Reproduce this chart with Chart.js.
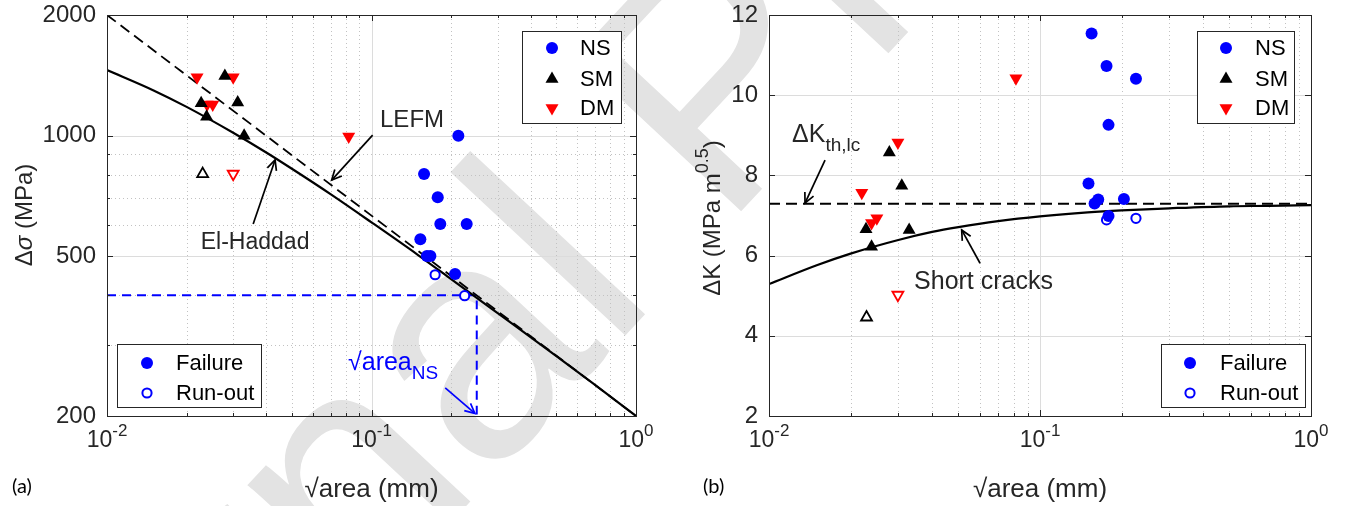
<!DOCTYPE html>
<html>
<head>
<meta charset="utf-8">
<script src="https://cdn.jsdelivr.net/npm/chart.js@4.4.1/dist/chart.umd.min.js"></script>
<style>
  html, body { margin: 0; padding: 0; background: #fff; }
  #page { position: relative; width: 1351px; height: 506px; overflow: hidden; }
  canvas { position: absolute; top: 0; }
  #wm { left: 0; }
  #chartA { left: 0; }
  #chartB { left: 680px; }
</style>
</head>
<body>
<div id="page">
  <canvas id="wm" width="1351" height="506"></canvas>
  <canvas id="chartA" width="680" height="506"></canvas>
  <canvas id="chartB" width="671" height="506"></canvas>
</div>
<script>
const FONT = '"Liberation Sans", Arial, Helvetica, sans-serif';
const INK = "#262626";
const BLUE = "#0000ff";
const RED = "#ff0000";

// ---- panel (a): stress range vs sqrt(area) ----
const nsFailA_x = [0.213, 0.158, 0.178, 0.182, 0.229, 0.153, 0.162, 0.167, 0.207];
const nsFailA_y = [1000, 803, 702, 602, 602, 552, 501, 501, 452];
const nsRunA_x = [0.174, 0.225];
const nsRunA_y = [450, 399];
const smFailA_x = [0.0279, 0.0227, 0.0312, 0.0238, 0.033];
const smFailA_y = [1409, 1205, 1210, 1115, 1000];
const smRunA_x = [0.023];
const smRunA_y = [803];
const dmFailA_x = [0.0219, 0.03, 0.0239, 0.0251, 0.082];
const dmFailA_y = [1398, 1398, 1197, 1197, 995];
const dmRunA_x = [0.03];
const dmRunA_y = [803];
const lefm_x = [0.01, 0.1, 1];
const lefm_y = [2000, 632, 200];
const elHaddad_x = [0.01, 0.015, 0.02, 0.03, 0.04, 0.05, 0.07, 0.1, 0.15, 0.2, 0.3, 0.5, 0.7, 1];
const elHaddad_y = [1458, 1297, 1180, 1017, 908, 827, 715, 608, 504, 439, 361, 282, 239, 200];
const nsGuide_x = [0.01, 0.25, 0.25];
const nsGuide_y = [400, 400, 200];

// ---- panel (b): threshold SIF vs sqrt(area) ----
const nsFailB_x = [0.155, 0.176, 0.226, 0.179, 0.151, 0.164, 0.159, 0.204, 0.179];
const nsFailB_y = [11.54, 10.73, 10.41, 9.26, 7.8, 7.4, 7.3, 7.41, 6.99];
const nsRunB_x = [0.176, 0.226];
const nsRunB_y = [6.89, 6.93];
const smFailB_x = [0.0278, 0.0309, 0.0228, 0.0329, 0.0239];
const smFailB_y = [8.57, 7.74, 6.66, 6.64, 6.22];
const smRunB_x = [0.0229];
const smRunB_y = [4.46];
const dmFailB_x = [0.0815, 0.0299, 0.022, 0.025, 0.0239];
const dmFailB_y = [10.42, 8.82, 7.57, 6.93, 6.81];
const dmRunB_x = [0.0299];
const dmRunB_y = [5.02];
const kth_x = [0.01, 1];
const kth_y = [7.29, 7.29];
const shortCrack_x = [0.01, 0.015, 0.02, 0.03, 0.04, 0.05, 0.07, 0.1, 0.15, 0.2, 0.3, 0.5, 0.7, 1];
const shortCrack_y = [5.29, 5.76, 6.05, 6.39, 6.59, 6.71, 6.86, 6.98, 7.08, 7.13, 7.18, 7.23, 7.24, 7.26];

// ---- ticks ----
const xTicks = [0.01, 0.1, 1];
const xTickExp = ["-2", "-1", "0"];
const xMinor = [0.02, 0.03, 0.04, 0.05, 0.06, 0.07, 0.08, 0.09, 0.2, 0.3, 0.4, 0.5, 0.6, 0.7, 0.8, 0.9];
const yTicksA = [200, 500, 1000, 2000];
const yMinorA = [300, 400, 600, 700, 800, 900];
const yTicksB = [2, 4, 6, 8, 10, 12];

const pts = (xs, ys) => xs.map((x, i) => ({ x: x, y: ys[i] }));

// marker styles, shared by plot and legends
const ST = {
  nsFail: { pointStyle: "circle", radius: 6, rotation: 0, fill: BLUE, stroke: BLUE, borderWidth: 0 },
  nsRun: { pointStyle: "circle", radius: 4.6, rotation: 0, fill: "#fff", stroke: BLUE, borderWidth: 2 },
  smFail: { pointStyle: "triangle", radius: 7.5, rotation: 0, fill: "#000", stroke: "#000", borderWidth: 0 },
  smRun: { pointStyle: "triangle", radius: 6.3, rotation: 0, fill: "#fff", stroke: "#000", borderWidth: 1.8 },
  dmFail: { pointStyle: "triangle", radius: 7.5, rotation: 180, fill: RED, stroke: RED, borderWidth: 0 },
  dmRun: { pointStyle: "triangle", radius: 6.3, rotation: 180, fill: "#fff", stroke: RED, borderWidth: 1.8 },
};

function markers(xs, ys, s) {
  return {
    data: pts(xs, ys),
    showLine: false,
    pointStyle: s.pointStyle,
    rotation: s.rotation,
    pointRadius: s.radius,
    pointBackgroundColor: s.fill,
    pointBorderColor: s.stroke,
    pointBorderWidth: s.borderWidth,
  };
}

function curve(xs, ys, color, width, dash) {
  return {
    data: pts(xs, ys),
    showLine: true,
    borderColor: color,
    borderWidth: width,
    borderDash: dash || [],
    pointRadius: 0,
    cubicInterpolationMode: "monotone",
    fill: false,
  };
}

// ---- drawing helpers ----
function line(ctx, x1, y1, x2, y2) {
  ctx.beginPath();
  ctx.moveTo(x1, y1);
  ctx.lineTo(x2, y2);
  ctx.stroke();
}
const snap = (v) => Math.round(v) + 0.5;

function drawMarker(ctx, s, x, y) {
  ctx.save();
  ctx.fillStyle = s.fill;
  ctx.strokeStyle = s.stroke;
  ctx.lineWidth = s.borderWidth;
  Chart.helpers.drawPoint(ctx, { pointStyle: s.pointStyle, rotation: s.rotation, radius: s.radius, borderWidth: s.borderWidth }, x, y);
  ctx.restore();
}

// text made of parts: {t, sub, sup, italic}
function drawParts(ctx, parts, x, y, size, align) {
  const fontOf = (p) => (p.italic ? "italic " : "") + Math.round(p.sub || p.sup ? size * 0.75 : size) + "px " + FONT;
  let total = 0;
  parts.forEach((p) => { ctx.font = fontOf(p); total += ctx.measureText(p.t).width; });
  let cx = align === "center" ? x - total / 2 : align === "right" ? x - total : x;
  ctx.textAlign = "left";
  ctx.textBaseline = "middle";
  parts.forEach((p) => {
    ctx.font = fontOf(p);
    const dy = p.sub ? size * 0.42 : p.sup ? -size * 0.42 : 0;
    ctx.fillText(p.t, cx, y + dy);
    cx += ctx.measureText(p.t).width;
  });
}

function drawArrow(ctx, x1, y1, x2, y2, color) {
  ctx.save();
  ctx.strokeStyle = color;
  ctx.lineWidth = 1.7;
  ctx.setLineDash([]);
  line(ctx, x1, y1, x2, y2);
  const ang = Math.atan2(y2 - y1, x2 - x1);
  const L = 11, h = 0.45;
  ctx.beginPath();
  ctx.moveTo(x2 - L * Math.cos(ang - h), y2 - L * Math.sin(ang - h));
  ctx.lineTo(x2, y2);
  ctx.lineTo(x2 - L * Math.cos(ang + h), y2 - L * Math.sin(ang + h));
  ctx.stroke();
  ctx.restore();
}

function drawLegend(ctx, b, entries) {
  ctx.save();
  ctx.fillStyle = "#fff";
  ctx.fillRect(b.x, b.y, b.w, b.h);
  ctx.strokeStyle = INK;
  ctx.lineWidth = 1;
  ctx.setLineDash([]);
  ctx.strokeRect(snap(b.x), snap(b.y), b.w, b.h);
  entries.forEach((e) => {
    drawMarker(ctx, e.style, b.x + b.mx, b.y + e.dy);
    ctx.fillStyle = "#000";
    ctx.font = "22px " + FONT;
    ctx.textAlign = "left";
    ctx.textBaseline = "middle";
    ctx.fillText(e.label, b.x + b.tx, b.y + e.dy + 1);
  });
  ctx.restore();
}

function matlabAxes(opt) {
  return {
    id: "matlabAxes",
    beforeDatasetsDraw(chart) {
      const { ctx, chartArea: a } = chart;
      const x = chart.scales.x, y = chart.scales.y;
      ctx.save();
      ctx.lineWidth = 1;
      ctx.strokeStyle = "#c2c2c2";
      ctx.setLineDash([1, 3]);
      xMinor.forEach((v) => { const p = snap(x.getPixelForValue(v)); line(ctx, p, a.top, p, a.bottom); });
      opt.yMinor.forEach((v) => { const p = snap(y.getPixelForValue(v)); line(ctx, a.left, p, a.right, p); });
      ctx.setLineDash([]);
      ctx.strokeStyle = "#dcdcdc";
      xTicks.forEach((v) => { const p = snap(x.getPixelForValue(v)); if (p > a.left + 2 && p < a.right - 2) line(ctx, p, a.top, p, a.bottom); });
      opt.yTicks.forEach((v) => { const p = snap(y.getPixelForValue(v)); if (p > a.top + 2 && p < a.bottom - 2) line(ctx, a.left, p, a.right, p); });
      ctx.restore();
    },
    afterDatasetsDraw(chart) {
      const { ctx, chartArea: a } = chart;
      const x = chart.scales.x, y = chart.scales.y;
      const P = (vx, vy) => [x.getPixelForValue(vx), y.getPixelForValue(vy)];
      ctx.save();
      // box
      ctx.strokeStyle = INK;
      ctx.lineWidth = 1;
      ctx.setLineDash([]);
      ctx.strokeRect(snap(a.left), snap(a.top), Math.round(a.right - a.left), Math.round(a.bottom - a.top));
      // tick marks, inward on all sides
      const xt = (v, L) => { const p = snap(x.getPixelForValue(v)); line(ctx, p, a.bottom, p, a.bottom - L); line(ctx, p, a.top, p, a.top + L); };
      const yt = (v, L) => { const p = snap(y.getPixelForValue(v)); line(ctx, a.left, p, a.left + L, p); line(ctx, a.right, p, a.right - L, p); };
      xTicks.forEach((v) => xt(v, 6));
      xMinor.forEach((v) => xt(v, 3));
      opt.yTicks.forEach((v) => yt(v, 6));
      opt.yMinor.forEach((v) => yt(v, 3));
      // tick labels
      ctx.fillStyle = INK;
      opt.yTicks.forEach((v) => {
        drawParts(ctx, [{ t: String(v) }], a.left - 11, y.getPixelForValue(v), 24, "right");
      });
      xTicks.forEach((v, i) => {
        drawParts(ctx, [{ t: "10" }, { t: xTickExp[i], sup: true }], x.getPixelForValue(v), a.bottom + 25, 23, "center");
      });
      // axis titles
      drawParts(ctx, [{ t: "\u221Aarea (mm)" }], (a.left + a.right) / 2, 490, 26, "center");
      ctx.save();
      ctx.translate(opt.yTitleX, opt.yTitleY);
      ctx.rotate(-Math.PI / 2);
      drawParts(ctx, opt.yTitle, 0, 0, 24, "center");
      ctx.restore();
      ctx.font = "20px Lato, " + FONT;
      ctx.textAlign = "left";
      ctx.textBaseline = "middle";
      ctx.fillStyle = "#000";
      ctx.fillText(opt.tag, opt.tagX, 487);
      // annotations
      opt.arrows.forEach((r) => {
        const f = P(r.from[0], r.from[1]), t = P(r.to[0], r.to[1]);
        drawArrow(ctx, f[0], f[1], t[0], t[1], r.color || "#000");
      });
      opt.notes.forEach((n) => {
        const p = P(n.at[0], n.at[1]);
        ctx.fillStyle = n.color || INK;
        drawParts(ctx, n.parts, p[0], p[1], n.size || 24, n.align || "left");
      });
      // legends
      opt.legends.forEach((lg) => {
        const b = Object.assign({}, lg.box);
        b.x = lg.right != null ? a.right - lg.right - b.w : a.left + lg.left;
        b.y = lg.top != null ? a.top + lg.top : a.bottom - lg.bottom - b.h;
        drawLegend(ctx, b, lg.entries);
      });
      ctx.restore();
    },
  };
}

const typeEntries = [
  { label: "NS", style: ST.nsFail, dy: 17 },
  { label: "SM", style: ST.smFail, dy: 48 },
  { label: "DM", style: ST.dmFail, dy: 77 },
];
const stateEntries = [
  { label: "Failure", style: ST.nsFail, dy: 19 },
  { label: "Run-out", style: ST.nsRun, dy: 49 },
];

const panelA = {
  yTicks: yTicksA,
  yMinor: yMinorA,
  yTitle: [{ t: "\u0394" }, { t: "\u03C3", italic: true }, { t: " (MPa)" }],
  yTitleX: 25,
  yTitleY: 215,
  tag: "(a)",
  tagX: 12,
  notes: [
    { parts: [{ t: "LEFM" }], at: [0.1077, 1094] },
    { parts: [{ t: "El-Haddad" }], at: [0.0363, 540], align: "center", size: 23 },
    { parts: [{ t: "\u221Aarea" }, { t: "NS", sub: true }], at: [0.0815, 271], color: BLUE, size: 25 },
  ],
  arrows: [
    { from: [0.101, 1003], to: [0.0707, 775] },
    { from: [0.0357, 602], to: [0.0432, 870] },
    { from: [0.19, 235], to: [0.246, 203], color: BLUE },
  ],
  legends: [
    { right: 15, top: 16, box: { w: 99, h: 92, mx: 30, tx: 58 }, entries: typeEntries },
    { left: 10, bottom: 9, box: { w: 144, h: 63, mx: 30, tx: 59 }, entries: stateEntries },
  ],
};

const panelB = {
  yTicks: yTicksB,
  yMinor: [],
  yTitle: [{ t: "\u0394K (MPa m" }, { t: "0.5", sup: true }, { t: ")" }],
  yTitleX: 33,
  yTitleY: 218,
  tag: "(b)",
  tagX: 23,
  notes: [
    { parts: [{ t: "\u0394K" }, { t: "th,lc", sub: true }], at: [0.01216, 9.01], size: 25 },
    { parts: [{ t: "Short cracks" }], at: [0.0343, 5.35], size: 25 },
  ],
  arrows: [
    { from: [0.0161, 8.38], to: [0.01358, 7.31] },
    { from: [0.0601, 5.81], to: [0.0514, 6.64] },
  ],
  legends: [
    { right: 17, top: 16, box: { w: 97, h: 92, mx: 29, tx: 58 }, entries: typeEntries },
    { right: 6, bottom: 9, box: { w: 144, h: 63, mx: 29, tx: 59 }, entries: stateEntries },
  ],
};

function baseOptions(pad, yWidth, yScale) {
  return {
    responsive: false,
    animation: false,
    events: [],
    layout: { padding: pad },
    plugins: { legend: { display: false }, tooltip: { enabled: false } },
    scales: {
      x: {
        type: "logarithmic", min: 0.01, max: 1,
        ticks: { display: false }, grid: { display: false }, border: { display: false },
        afterFit: (s) => { s.height = 90; },
      },
      y: Object.assign({
        ticks: { display: false }, grid: { display: false }, border: { display: false },
        afterFit: (s) => { s.width = yWidth; },
      }, yScale),
    },
  };
}

// watermark behind both panels
const WM = { text: "Journal Pre-proof", size: 330, angleDeg: 47, anchor: [635, 325], anchorEm: 3.168, color: "#e3e3e3" };
(function drawWatermark() {
  const ctx = document.getElementById("wm").getContext("2d");
  const th = (WM.angleDeg * Math.PI) / 180;
  const d = WM.anchorEm * WM.size;
  const ox = WM.anchor[0] - d * Math.cos(th);
  const oy = WM.anchor[1] + d * Math.sin(th);
  ctx.save();
  ctx.translate(ox, oy);
  ctx.rotate(-th);
  ctx.fillStyle = WM.color;
  ctx.font = WM.size + "px " + FONT;
  ctx.textBaseline = "alphabetic";
  ctx.fillText(WM.text, 0, 0);
  ctx.restore();
})();

new Chart(document.getElementById("chartA").getContext("2d"), {
  type: "scatter",
  data: {
    datasets: [
      markers(nsFailA_x, nsFailA_y, ST.nsFail),
      markers(nsRunA_x, nsRunA_y, ST.nsRun),
      markers(smFailA_x, smFailA_y, ST.smFail),
      markers(smRunA_x, smRunA_y, ST.smRun),
      markers(dmFailA_x, dmFailA_y, ST.dmFail),
      markers(dmRunA_x, dmRunA_y, ST.dmRun),
      curve(lefm_x, lefm_y, "#000", 1.8, [11, 6]),
      curve(elHaddad_x, elHaddad_y, "#000", 2.2),
      curve(nsGuide_x, nsGuide_y, BLUE, 2, [9, 6]),
    ],
  },
  options: baseOptions({ top: 15, right: 44, left: 0, bottom: 0 }, 107, { type: "logarithmic", min: 200, max: 2000 }),
  plugins: [matlabAxes(panelA)],
});

new Chart(document.getElementById("chartB").getContext("2d"), {
  type: "scatter",
  data: {
    datasets: [
      markers(nsFailB_x, nsFailB_y, ST.nsFail),
      markers(nsRunB_x, nsRunB_y, ST.nsRun),
      markers(smFailB_x, smFailB_y, ST.smFail),
      markers(smRunB_x, smRunB_y, ST.smRun),
      markers(dmFailB_x, dmFailB_y, ST.dmFail),
      markers(dmRunB_x, dmRunB_y, ST.dmRun),
      curve(kth_x, kth_y, "#000", 2, [11, 6]),
      curve(shortCrack_x, shortCrack_y, "#000", 2.2),
    ],
  },
  options: baseOptions({ top: 15, right: 40, left: 0, bottom: 0 }, 89, { type: "linear", min: 2, max: 12 }),
  plugins: [matlabAxes(panelB)],
});
</script>
</body>
</html>
